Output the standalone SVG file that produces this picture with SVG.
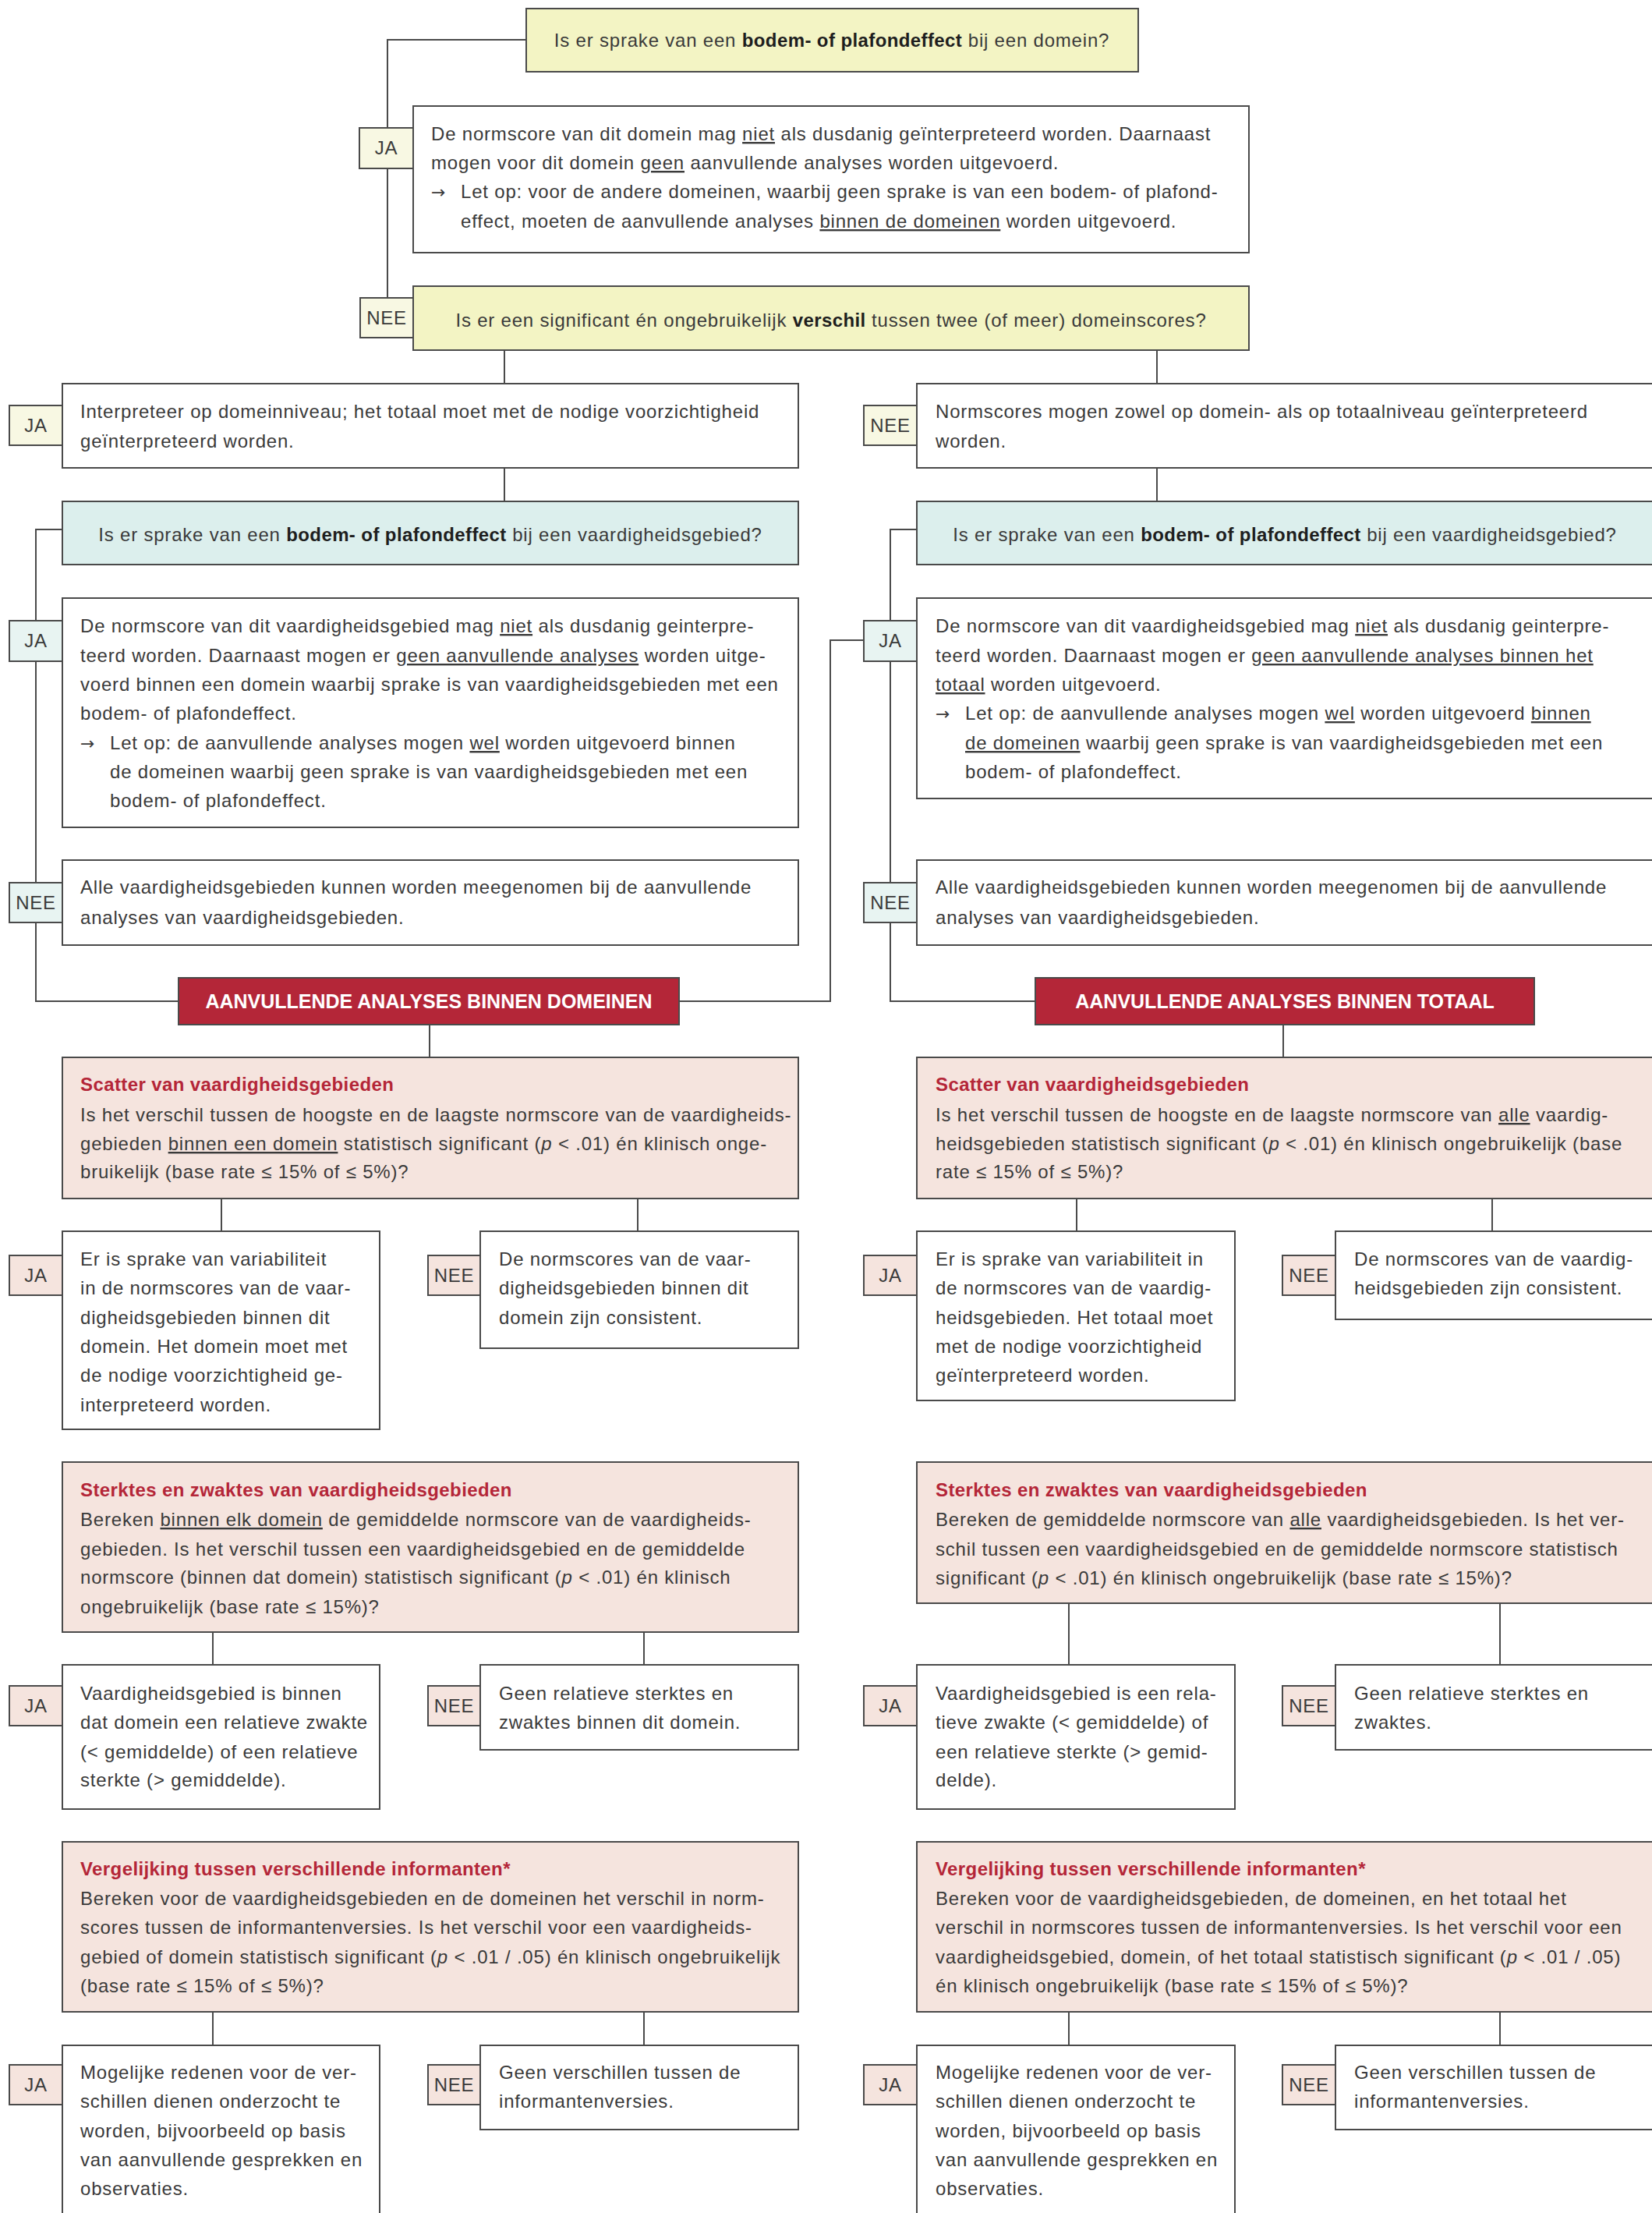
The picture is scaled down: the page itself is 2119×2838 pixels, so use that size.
<svg xmlns="http://www.w3.org/2000/svg" width="2119" height="2838" viewBox="0 0 2119 2838">
<style>
.t{font-family:"Liberation Sans",Arial,sans-serif;font-size:24px;letter-spacing:0.8px;fill:#3a3a3a}
.c{text-anchor:middle}
.ar{font-family:"DejaVu Sans",sans-serif;font-size:22px;letter-spacing:0}
.bd{font-weight:bold;fill:#1e1e1e;letter-spacing:0.4px}
.rt{font-weight:bold;fill:#b42638;letter-spacing:0.4px}
.wt{font-family:"Liberation Sans",Arial,sans-serif;font-weight:bold;fill:#fff;font-size:25px;text-anchor:middle}
.u{text-decoration:underline}
.i{font-style:italic}
.box{stroke:#4a4a4a;stroke-width:2}
.y{fill:#f3f4c4}.yl{fill:#f8f8e3}
.g{fill:#dcefed}.gl{fill:#e8f4f2}
.p{fill:#f5e4de}
.w{fill:#fff}
.r{fill:#b42638}
.ln{fill:none;stroke:#4a4a4a;stroke-width:2}
</style>
<rect width="2119" height="2838" fill="#fff"/>
<g id="connectors">
<path class="ln" d="M675,51 H497 V382"/>
<path class="ln" d="M647,449 V492 M647,600 V643"/>
<path class="ln" d="M1484,449 V492 M1484,600 V643"/>
<path class="ln" d="M80,679 H46 V1284 H229"/>
<path class="ln" d="M1176,679 H1142 V1284 H1328"/>
<path class="ln" d="M1108,821 H1065 V1284 H871"/>
<path class="ln" d="M551,1314 V1356 M1646,1314 V1356"/>
<path class="ln" d="M284,1537 V1579 M818,1537 V1579 M1381,1537 V1579 M1914,1537 V1579"/>
<path class="ln" d="M273,2093 V2135 M826,2093 V2135 M1371,2056 V2135 M1924,2056 V2135"/>
<path class="ln" d="M273,2580 V2623 M826,2580 V2623 M1371,2580 V2623 M1924,2580 V2623"/>
</g>

<g id="q-domein">
<rect class="box y" x="675" y="11" width="785" height="81"/>
<text class="t c" x="1067" y="60">Is er sprake van een <tspan class="bd">bodem- of plafondeffect</tspan> bij een domein?</text>
</g>
<g id="lbl-ja-1"><rect class="box yl" x="461" y="164" width="69" height="52"/><text class="t c" x="495.5" y="198">JA</text></g>
<g id="a-domein-ja">
<rect class="box w" x="530" y="136" width="1072" height="188"/>
<text class="t" x="553" y="180">De normscore van dit domein mag <tspan class="u">niet</tspan> als dusdanig geïnterpreteerd worden. Daarnaast</text>
<text class="t" x="553" y="217">mogen voor dit domein <tspan class="u">geen</tspan> aanvullende analyses worden uitgevoerd.</text>
<text class="t ar" x="553" y="254">→</text>
<text class="t" x="591" y="254">Let op: voor de andere domeinen, waarbij geen sprake is van een bodem- of plafond-</text>
<text class="t" x="591" y="292">effect, moeten de aanvullende analyses <tspan class="u">binnen de domeinen</tspan> worden uitgevoerd.</text>
</g>
<g id="lbl-nee-1"><rect class="box yl" x="462" y="382" width="68" height="51"/><text class="t c" x="496" y="416">NEE</text></g>
<g id="q-verschil">
<rect class="box y" x="530" y="367" width="1072" height="82"/>
<text class="t c" x="1066" y="419">Is er een significant én ongebruikelijk <tspan class="bd">verschil</tspan> tussen twee (of meer) domeinscores?</text>
</g>

<g id="lbl-ja-2"><rect class="box yl" x="12" y="520" width="68" height="51"/><text class="t c" x="46" y="554">JA</text></g>
<g id="a-verschil-ja">
<rect class="box w" x="80" y="492" width="944" height="108"/>
<text class="t" x="103" y="536">Interpreteer op domeinniveau; het totaal moet met de nodige voorzichtigheid</text>
<text class="t" x="103" y="574">geïnterpreteerd worden.</text>
</g>
<g id="lbl-nee-2"><rect class="box yl" x="1108" y="520" width="68" height="51"/><text class="t c" x="1142" y="554">NEE</text></g>
<g id="a-verschil-nee">
<rect class="box w" x="1176" y="492" width="946" height="108"/>
<text class="t" x="1200" y="536">Normscores mogen zowel op domein- als op totaalniveau geïnterpreteerd</text>
<text class="t" x="1200" y="574">worden.</text>
</g>

<g id="q-vg-left">
<rect class="box g" x="80" y="643" width="944" height="81"/>
<text class="t c" x="552" y="694">Is er sprake van een <tspan class="bd">bodem- of plafondeffect</tspan> bij een vaardigheidsgebied?</text>
</g>
<g id="q-vg-right">
<rect class="box g" x="1176" y="643" width="946" height="81"/>
<text class="t c" x="1648" y="694">Is er sprake van een <tspan class="bd">bodem- of plafondeffect</tspan> bij een vaardigheidsgebied?</text>
</g>

<g id="lbl-ja-3"><rect class="box gl" x="12" y="796" width="68" height="52"/><text class="t c" x="46" y="830">JA</text></g>
<g id="a-vg-left-ja">
<rect class="box w" x="80" y="767" width="944" height="294"/>
<text class="t" x="103" y="811">De normscore van dit vaardigheidsgebied mag <tspan class="u">niet</tspan> als dusdanig geinterpre-</text>
<text class="t" x="103" y="849">teerd worden. Daarnaast mogen er <tspan class="u">geen aanvullende analyses</tspan> worden uitge-</text>
<text class="t" x="103" y="886">voerd binnen een domein waarbij sprake is van vaardigheidsgebieden met een</text>
<text class="t" x="103" y="923">bodem- of plafondeffect.</text>
<text class="t ar" x="103" y="961">→</text>
<text class="t" x="141" y="961">Let op: de aanvullende analyses mogen <tspan class="u">wel</tspan> worden uitgevoerd binnen</text>
<text class="t" x="141" y="998">de domeinen waarbij geen sprake is van vaardigheidsgebieden met een</text>
<text class="t" x="141" y="1035">bodem- of plafondeffect.</text>
</g>
<g id="lbl-nee-3"><rect class="box gl" x="12" y="1132" width="68" height="51"/><text class="t c" x="46" y="1166">NEE</text></g>
<g id="a-vg-left-nee">
<rect class="box w" x="80" y="1103" width="944" height="109"/>
<text class="t" x="103" y="1146">Alle vaardigheidsgebieden kunnen worden meegenomen bij de aanvullende</text>
<text class="t" x="103" y="1185">analyses van vaardigheidsgebieden.</text>
</g>

<g id="lbl-ja-4"><rect class="box gl" x="1108" y="796" width="68" height="52"/><text class="t c" x="1142" y="830">JA</text></g>
<g id="a-vg-right-ja">
<rect class="box w" x="1176" y="767" width="946" height="257"/>
<text class="t" x="1200" y="811">De normscore van dit vaardigheidsgebied mag <tspan class="u">niet</tspan> als dusdanig geinterpre-</text>
<text class="t" x="1200" y="849">teerd worden. Daarnaast mogen er <tspan class="u">geen aanvullende analyses binnen het </tspan></text>
<text class="t" x="1200" y="886"><tspan class="u">totaal</tspan> worden uitgevoerd.</text>
<text class="t ar" x="1200" y="923">→</text>
<text class="t" x="1238" y="923">Let op: de aanvullende analyses mogen <tspan class="u">wel</tspan> worden uitgevoerd <tspan class="u">binnen</tspan></text>
<text class="t" x="1238" y="961"><tspan class="u">de domeinen</tspan> waarbij geen sprake is van vaardigheidsgebieden met een</text>
<text class="t" x="1238" y="998">bodem- of plafondeffect.</text>
</g>
<g id="lbl-nee-4"><rect class="box gl" x="1108" y="1132" width="68" height="51"/><text class="t c" x="1142" y="1166">NEE</text></g>
<g id="a-vg-right-nee">
<rect class="box w" x="1176" y="1103" width="946" height="109"/>
<text class="t" x="1200" y="1146">Alle vaardigheidsgebieden kunnen worden meegenomen bij de aanvullende</text>
<text class="t" x="1200" y="1185">analyses van vaardigheidsgebieden.</text>
</g>

<g id="h-domeinen">
<rect class="box r" x="229" y="1254" width="642" height="60"/>
<text class="wt" x="550" y="1293">AANVULLENDE ANALYSES BINNEN DOMEINEN</text>
</g>
<g id="h-totaal">
<rect class="box r" x="1328" y="1254" width="640" height="60"/>
<text class="wt" x="1648" y="1293">AANVULLENDE ANALYSES BINNEN TOTAAL</text>
</g>

<g id="scatter-left">
<rect class="box p" x="80" y="1356" width="944" height="181"/>
<text class="t rt" x="103" y="1399">Scatter van vaardigheidsgebieden</text>
<text class="t" x="103" y="1438">Is het verschil tussen de hoogste en de laagste normscore van de vaardigheids-</text>
<text class="t" x="103" y="1475">gebieden <tspan class="u">binnen een domein</tspan> statistisch significant (<tspan class="i">p</tspan> &lt; .01) én klinisch onge-</text>
<text class="t" x="103" y="1511">bruikelijk (base rate ≤ 15% of ≤ 5%)?</text>
</g>
<g id="lbl-ja-5"><rect class="box p" x="12" y="1610" width="68" height="51"/><text class="t c" x="46" y="1644">JA</text></g>
<g id="scatter-left-ja">
<rect class="box w" x="80" y="1579" width="407" height="254"/>
<text class="t" x="103" y="1623">Er is sprake van variabiliteit</text>
<text class="t" x="103" y="1660">in de normscores van de vaar-</text>
<text class="t" x="103" y="1698">digheidsgebieden binnen dit</text>
<text class="t" x="103" y="1735">domein. Het domein moet met</text>
<text class="t" x="103" y="1772">de nodige voorzichtigheid ge-</text>
<text class="t" x="103" y="1810">interpreteerd worden.</text>
</g>
<g id="lbl-nee-5"><rect class="box p" x="549" y="1610" width="67" height="51"/><text class="t c" x="582.5" y="1644">NEE</text></g>
<g id="scatter-left-nee">
<rect class="box w" x="616" y="1579" width="408" height="150"/>
<text class="t" x="640" y="1623">De normscores van de vaar-</text>
<text class="t" x="640" y="1660">digheidsgebieden binnen dit</text>
<text class="t" x="640" y="1698">domein zijn consistent.</text>
</g>

<g id="scatter-right">
<rect class="box p" x="1176" y="1356" width="946" height="181"/>
<text class="t rt" x="1200" y="1399">Scatter van vaardigheidsgebieden</text>
<text class="t" x="1200" y="1438">Is het verschil tussen de hoogste en de laagste normscore van <tspan class="u">alle</tspan> vaardig-</text>
<text class="t" x="1200" y="1475">heidsgebieden statistisch significant (<tspan class="i">p</tspan> &lt; .01) én klinisch ongebruikelijk (base</text>
<text class="t" x="1200" y="1511">rate ≤ 15% of ≤ 5%)?</text>
</g>
<g id="lbl-ja-6"><rect class="box p" x="1108" y="1610" width="68" height="51"/><text class="t c" x="1142" y="1644">JA</text></g>
<g id="scatter-right-ja">
<rect class="box w" x="1176" y="1579" width="408" height="217"/>
<text class="t" x="1200" y="1623">Er is sprake van variabiliteit in</text>
<text class="t" x="1200" y="1660">de normscores van de vaardig-</text>
<text class="t" x="1200" y="1698">heidsgebieden. Het totaal moet</text>
<text class="t" x="1200" y="1735">met de nodige voorzichtigheid</text>
<text class="t" x="1200" y="1772">geïnterpreteerd worden.</text>
</g>
<g id="lbl-nee-6"><rect class="box p" x="1645" y="1610" width="68" height="51"/><text class="t c" x="1679" y="1644">NEE</text></g>
<g id="scatter-right-nee">
<rect class="box w" x="1713" y="1579" width="410" height="113"/>
<text class="t" x="1737" y="1623">De normscores van de vaardig-</text>
<text class="t" x="1737" y="1660">heidsgebieden zijn consistent.</text>
</g>

<g id="sterk-left">
<rect class="box p" x="80" y="1875" width="944" height="218"/>
<text class="t rt" x="103" y="1919">Sterktes en zwaktes van vaardigheidsgebieden</text>
<text class="t" x="103" y="1957">Bereken <tspan class="u">binnen elk domein</tspan> de gemiddelde normscore van de vaardigheids-</text>
<text class="t" x="103" y="1995">gebieden. Is het verschil tussen een vaardigheidsgebied en de gemiddelde</text>
<text class="t" x="103" y="2031">normscore (binnen dat domein) statistisch significant (<tspan class="i">p</tspan> &lt; .01) én klinisch</text>
<text class="t" x="103" y="2069">ongebruikelijk (base rate ≤ 15%)?</text>
</g>
<g id="lbl-ja-7"><rect class="box p" x="12" y="2162" width="68" height="51"/><text class="t c" x="46" y="2196">JA</text></g>
<g id="sterk-left-ja">
<rect class="box w" x="80" y="2135" width="407" height="185"/>
<text class="t" x="103" y="2180">Vaardigheidsgebied is binnen</text>
<text class="t" x="103" y="2217">dat domein een relatieve zwakte</text>
<text class="t" x="103" y="2255">(&lt; gemiddelde) of een relatieve</text>
<text class="t" x="103" y="2291">sterkte (&gt; gemiddelde).</text>
</g>
<g id="lbl-nee-7"><rect class="box p" x="549" y="2162" width="67" height="51"/><text class="t c" x="582.5" y="2196">NEE</text></g>
<g id="sterk-left-nee">
<rect class="box w" x="616" y="2135" width="408" height="109"/>
<text class="t" x="640" y="2180">Geen relatieve sterktes en</text>
<text class="t" x="640" y="2217">zwaktes binnen dit domein.</text>
</g>

<g id="sterk-right">
<rect class="box p" x="1176" y="1875" width="946" height="181"/>
<text class="t rt" x="1200" y="1919">Sterktes en zwaktes van vaardigheidsgebieden</text>
<text class="t" x="1200" y="1957">Bereken de gemiddelde normscore van <tspan class="u">alle</tspan> vaardigheidsgebieden. Is het ver-</text>
<text class="t" x="1200" y="1995">schil tussen een vaardigheidsgebied en de gemiddelde normscore statistisch</text>
<text class="t" x="1200" y="2032">significant (<tspan class="i">p</tspan> &lt; .01) én klinisch ongebruikelijk (base rate ≤ 15%)?</text>
</g>
<g id="lbl-ja-8"><rect class="box p" x="1108" y="2162" width="68" height="51"/><text class="t c" x="1142" y="2196">JA</text></g>
<g id="sterk-right-ja">
<rect class="box w" x="1176" y="2135" width="408" height="185"/>
<text class="t" x="1200" y="2180">Vaardigheidsgebied is een rela-</text>
<text class="t" x="1200" y="2217">tieve zwakte (&lt; gemiddelde) of</text>
<text class="t" x="1200" y="2255">een relatieve sterkte (&gt; gemid-</text>
<text class="t" x="1200" y="2291">delde).</text>
</g>
<g id="lbl-nee-8"><rect class="box p" x="1645" y="2162" width="68" height="51"/><text class="t c" x="1679" y="2196">NEE</text></g>
<g id="sterk-right-nee">
<rect class="box w" x="1713" y="2135" width="410" height="109"/>
<text class="t" x="1737" y="2180">Geen relatieve sterktes en</text>
<text class="t" x="1737" y="2217">zwaktes.</text>
</g>

<g id="verg-left">
<rect class="box p" x="80" y="2362" width="944" height="218"/>
<text class="t rt" x="103" y="2405">Vergelijking tussen verschillende informanten*</text>
<text class="t" x="103" y="2443">Bereken voor de vaardigheidsgebieden en de domeinen het verschil in norm-</text>
<text class="t" x="103" y="2480">scores tussen de informantenversies. Is het verschil voor een vaardigheids-</text>
<text class="t" x="103" y="2518">gebied of domein statistisch significant (<tspan class="i">p</tspan> &lt; .01 / .05) én klinisch ongebruikelijk</text>
<text class="t" x="103" y="2555">(base rate ≤ 15% of ≤ 5%)?</text>
</g>
<g id="lbl-ja-9"><rect class="box p" x="12" y="2648" width="68" height="51"/><text class="t c" x="46" y="2682">JA</text></g>
<g id="verg-left-ja">
<rect class="box w" x="80" y="2623" width="407" height="240"/>
<text class="t" x="103" y="2666">Mogelijke redenen voor de ver-</text>
<text class="t" x="103" y="2703">schillen dienen onderzocht te</text>
<text class="t" x="103" y="2741">worden, bijvoorbeeld op basis</text>
<text class="t" x="103" y="2778">van aanvullende gesprekken en</text>
<text class="t" x="103" y="2815">observaties.</text>
</g>
<g id="lbl-nee-9"><rect class="box p" x="549" y="2648" width="67" height="51"/><text class="t c" x="582.5" y="2682">NEE</text></g>
<g id="verg-left-nee">
<rect class="box w" x="616" y="2623" width="408" height="108"/>
<text class="t" x="640" y="2666">Geen verschillen tussen de</text>
<text class="t" x="640" y="2703">informantenversies.</text>
</g>

<g id="verg-right">
<rect class="box p" x="1176" y="2362" width="946" height="218"/>
<text class="t rt" x="1200" y="2405">Vergelijking tussen verschillende informanten*</text>
<text class="t" x="1200" y="2443">Bereken voor de vaardigheidsgebieden, de domeinen, en het totaal het</text>
<text class="t" x="1200" y="2480">verschil in normscores tussen de informantenversies. Is het verschil voor een</text>
<text class="t" x="1200" y="2518">vaardigheidsgebied, domein, of het totaal statistisch significant (<tspan class="i">p</tspan> &lt; .01 / .05)</text>
<text class="t" x="1200" y="2555">én klinisch ongebruikelijk (base rate ≤ 15% of ≤ 5%)?</text>
</g>
<g id="lbl-ja-10"><rect class="box p" x="1108" y="2648" width="68" height="51"/><text class="t c" x="1142" y="2682">JA</text></g>
<g id="verg-right-ja">
<rect class="box w" x="1176" y="2623" width="408" height="240"/>
<text class="t" x="1200" y="2666">Mogelijke redenen voor de ver-</text>
<text class="t" x="1200" y="2703">schillen dienen onderzocht te</text>
<text class="t" x="1200" y="2741">worden, bijvoorbeeld op basis</text>
<text class="t" x="1200" y="2778">van aanvullende gesprekken en</text>
<text class="t" x="1200" y="2815">observaties.</text>
</g>
<g id="lbl-nee-10"><rect class="box p" x="1645" y="2648" width="68" height="51"/><text class="t c" x="1679" y="2682">NEE</text></g>
<g id="verg-right-nee">
<rect class="box w" x="1713" y="2623" width="410" height="108"/>
<text class="t" x="1737" y="2666">Geen verschillen tussen de</text>
<text class="t" x="1737" y="2703">informantenversies.</text>
</g>
</svg>
